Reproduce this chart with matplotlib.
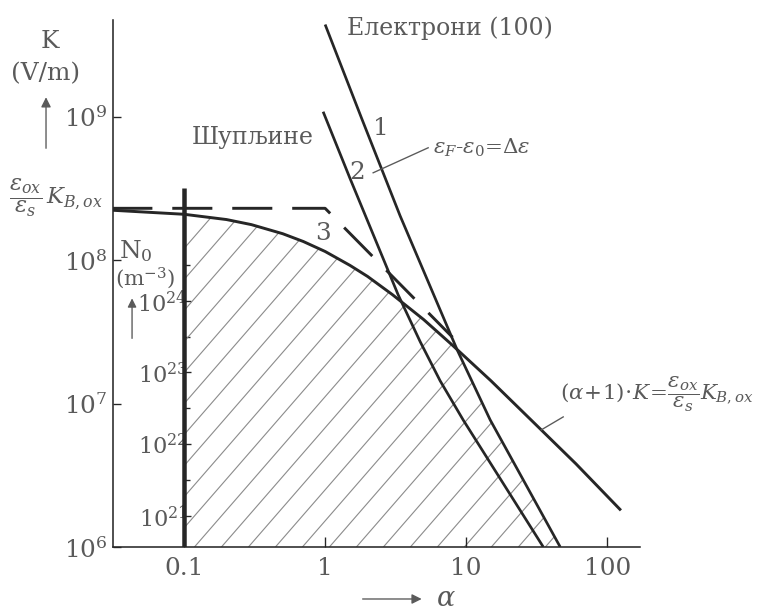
import numpy as np
import matplotlib
matplotlib.use("Agg")
import matplotlib.pyplot as plt
from matplotlib.lines import Line2D
from matplotlib.collections import LineCollection
from matplotlib.ticker import FixedLocator, FixedFormatter, NullFormatter

# ---------------- data ----------------
alpha_ticks = [0.1, 1, 10, 100]
alpha_tick_labels = ["0.1", "1", "10", "100"]
k_ticks = [1e6, 1e7, 1e8, 1e9]
k_tick_labels = [r"$10^{6}$", r"$10^{7}$", r"$10^{8}$", r"$10^{9}$"]

# secondary scale: doping N0 (m^-3) at alpha = 0.1
n0_ticks = [1e21, 1e22, 1e23, 1e24]
n0_tick_labels = [r"$10^{21}$", r"$10^{22}$", r"$10^{23}$", r"$10^{24}$"]
n0_minor_ticks = [10 ** 21.5, 10 ** 22.5, 10 ** 23.5, 10 ** 24.5]
n0_log_offset = 8.566          # log10(N0) = 2*log10(K) + offset
n0_axis_alpha = 0.1
n0_axis_top_k = 3.2e8

# curve 3: (alpha+1)*K = eps_ox/eps_s * K_B,ox
curve3_alpha = [0.031, 0.1, 0.2, 0.3, 0.5, 0.7, 1.0, 1.5, 2.0, 3.0, 5.0, 8.0, 15.0, 30.0, 60.0, 125.0]
curve3_k = [2.23e8, 2.09e8, 1.92e8, 1.77e8, 1.53e8, 1.35e8, 1.15e8, 9.2e7, 7.7e7, 5.75e7,
            3.85e7, 2.55e7, 1.44e7, 7.4e6, 3.8e6, 1.8e6]

# asymptotes of curve 3 (dashed)
asym_alpha = [0.031, 1.0, 8.0]
asym_k = [2.3e8, 2.3e8, 2.9e7]

# curve 1: electrons (100)
line1_alpha = [1.0, 1.83, 3.40, 8.63, 14.8, 46.4]
line1_k = [4.40e9, 9.55e8, 2.04e8, 2.37e7, 7.69e6, 1.0e6]

# curve 2: holes
line2_alpha = [0.968, 1.504, 1.986, 3.295, 4.72, 6.54, 9.52, 35.2]
line2_k = [1.085e9, 3.70e8, 1.91e8, 5.73e7, 2.70e7, 1.44e7, 7.69e6, 1.0e6]

# ---------------- style ----------------
W, H, DPI = 757, 610, 162
LINE = "#262626"
TEXT = "#5a5a5a"
HATCH = "#8c8c8c"

plt.rcParams["font.family"] = ["DejaVu Serif"]
plt.rcParams["mathtext.fontset"] = "dejavuserif"


def fpos(x, y):
    """pixel position (from top-left) -> figure fraction"""
    return x / W, 1 - y / H


fig = plt.figure(figsize=((W + 0.3) / DPI, (H + 0.3) / DPI), dpi=DPI)
fig.patch.set_facecolor("white")
ax = fig.add_axes([113 / W, 1 - 547 / H, (640 - 113) / W, (547 - 20) / H])
ax.set_xscale("log")
ax.set_yscale("log")
ax.set_xlim(10 ** -1.5035, 10 ** 2.234)
ax.set_ylim(1e6, 10 ** 9.677)

for side in ("top", "right"):
    ax.spines[side].set_visible(False)
for side in ("left", "bottom"):
    ax.spines[side].set_linewidth(0.7)
    ax.spines[side].set_color(LINE)

ax.xaxis.set_major_locator(FixedLocator(alpha_ticks))
ax.xaxis.set_major_formatter(FixedFormatter(alpha_tick_labels))
ax.yaxis.set_major_locator(FixedLocator(k_ticks))
ax.yaxis.set_major_formatter(FixedFormatter(k_tick_labels))
ax.minorticks_off()
ax.tick_params(axis="x", which="major", direction="in", length=4.5, width=0.6,
               color=LINE, pad=4.5, labelsize=11, labelcolor=TEXT)
ax.tick_params(axis="y", which="major", direction="in", length=3.6, width=0.6,
               color=LINE, pad=2.5, labelsize=11, labelcolor=TEXT)

# hatched region: below curve 3 and curve 1, right of alpha = 0.1
c3a = np.array(curve3_alpha)
c3k = np.array(curve3_k)
l1a = np.array(line1_alpha)
l1k = np.array(line1_k)
sel3 = (c3a >= n0_axis_alpha) & (c3a < 8.6)
sel1 = l1a >= 8.6
poly_a = np.concatenate([c3a[sel3], l1a[sel1], [n0_axis_alpha]])
poly_k = np.concatenate([c3k[sel3], l1k[sel1], [1e6]])
region = ax.fill(poly_a, poly_k, facecolor="none", edgecolor="none", linewidth=0, zorder=1)[0]

hatch_step = 0.0512     # horizontal spacing in axes fraction
hatch_slope = 1.15
starts = np.arange(-1.0 / hatch_slope, 1.0, hatch_step)
hatch_segs = [[(s, 0.0), (s + 1.0 / hatch_slope, 1.0)] for s in starts]
hatch = LineCollection(hatch_segs, transform=ax.transAxes, colors=HATCH,
                       linewidths=0.5, zorder=1)
hatch.set_clip_path(region)
ax.add_collection(hatch, autolim=False)

# curves
ax.plot(curve3_alpha, curve3_k, color=LINE, lw=1.3, zorder=3, solid_capstyle="butt")
ax.plot(asym_alpha, asym_k, color=LINE, lw=1.3, dashes=(13.7, 6.8), zorder=3)
ax.plot(line1_alpha, line1_k, color=LINE, lw=1.2, zorder=3, solid_capstyle="butt",
        solid_joinstyle="round")
ax.plot(line2_alpha, line2_k, color=LINE, lw=1.2, zorder=3, solid_capstyle="butt",
        solid_joinstyle="round")

# N0 scale line at alpha = 0.1
ax.plot([n0_axis_alpha, n0_axis_alpha], [1e6, n0_axis_top_k], color=LINE, lw=2.0,
        solid_capstyle="butt", zorder=4)


def k_to_n0(k):
    return np.asarray(k) ** 2 * 10 ** n0_log_offset


def n0_to_k(n):
    return np.sqrt(np.asarray(n) / 10 ** n0_log_offset)


sec = ax.secondary_yaxis(n0_axis_alpha, functions=(k_to_n0, n0_to_k), transform=ax.transData)
sec.spines["left"].set_visible(False)
sec.set_yticks(n0_ticks, labels=n0_tick_labels)
sec.set_yticks(n0_minor_ticks, minor=True)
sec.yaxis.set_minor_formatter(NullFormatter())
sec.tick_params(axis="y", which="major", direction="in", length=3.2, width=0.6,
                color=LINE, pad=-1.5, labelsize=10, labelcolor=TEXT)
sec.tick_params(axis="y", which="minor", direction="in", length=2.6, width=0.6, color=LINE)

# ---------------- annotations ----------------
fig.text(*fpos(50, 41), "K", ha="center", va="center", fontsize=11, color=TEXT)
fig.text(*fpos(46, 74), "(V/m)", ha="center", va="center", fontsize=11, color=TEXT)
ax.annotate("", xy=fpos(46, 93), xytext=fpos(46, 153), xycoords="figure fraction",
            textcoords="figure fraction",
            arrowprops=dict(arrowstyle="-|>", color=TEXT, lw=0.6, mutation_scale=9))

fig.text(*fpos(9, 198), r"$\dfrac{\varepsilon_{ox}}{\varepsilon_{s}}\,K_{B,ox}$",
         ha="left", va="center", fontsize=10, color=TEXT)

fig.text(*fpos(136, 251), r"N$_0$", ha="center", va="center", fontsize=11, color=TEXT)
fig.text(*fpos(145, 278), r"(m$^{-3}$)", ha="center", va="center", fontsize=9.5, color=TEXT)
ax.annotate("", xy=fpos(132, 294), xytext=fpos(132, 343), xycoords="figure fraction",
            textcoords="figure fraction",
            arrowprops=dict(arrowstyle="-|>", color=TEXT, lw=0.6, mutation_scale=8))

fig.text(*fpos(347, 28), "Електрони (100)", ha="left", va="center", fontsize=10.5, color=TEXT)
fig.text(*fpos(314, 137), "Шупљине", ha="right", va="center", fontsize=10.5, color=TEXT)

fig.text(*fpos(381, 128), "1", ha="center", va="center", fontsize=11, color=TEXT)
fig.text(*fpos(357, 172), "2", ha="center", va="center", fontsize=11, color=TEXT)
fig.text(*fpos(323, 233), "3", ha="center", va="center", fontsize=11, color=TEXT)

fig.text(*fpos(433, 148), r"$\varepsilon_{F}$-$\varepsilon_{0}$=$\Delta\varepsilon$",
         ha="left", va="center", fontsize=9.5, color=TEXT)
fig.add_artist(Line2D([fpos(373, 173)[0], fpos(428, 148)[0]],
                      [fpos(373, 173)[1], fpos(428, 148)[1]], color=TEXT, lw=0.6))

fig.text(*fpos(560, 394),
         r"$\mathit{(\alpha\!+\!1)\!\cdot\! K\!=}\!\dfrac{\varepsilon_{ox}}{\varepsilon_{s}}K_{B,ox}$",
         ha="left", va="center", fontsize=9.5, color=TEXT)
fig.add_artist(Line2D([fpos(541, 430)[0], fpos(563, 417)[0]],
                      [fpos(541, 430)[1], fpos(563, 417)[1]], color=TEXT, lw=0.6))

ax.annotate("", xy=fpos(426, 599), xytext=fpos(358, 599), xycoords="figure fraction",
            textcoords="figure fraction",
            arrowprops=dict(arrowstyle="-|>", color=TEXT, lw=0.6, mutation_scale=9))
fig.text(*fpos(446, 598), r"$\alpha$", ha="center", va="center", fontsize=12, color=TEXT)

fig.savefig("out.png", dpi=DPI, facecolor="white")
